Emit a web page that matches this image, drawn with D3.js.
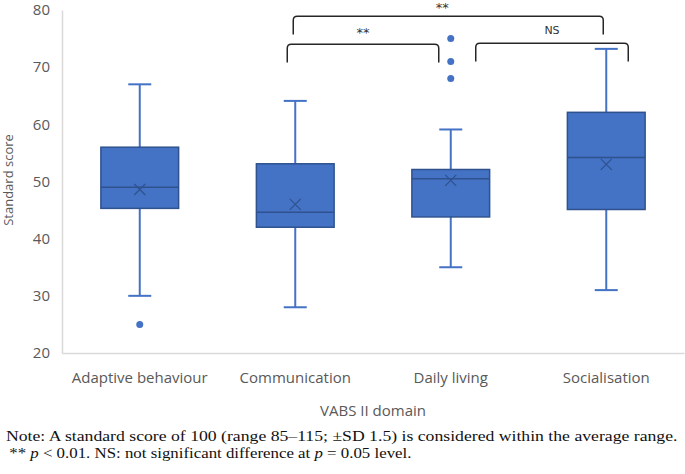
<!DOCTYPE html>
<html lang="en">
<head>
    <meta charset="UTF-8">
    <title>VABS II domain scores</title>
    <script src="https://cdnjs.cloudflare.com/ajax/libs/d3/7.8.2/d3.min.js"></script>
    <style>
        body{
            margin: 0;
            background: white;
        }
        svg{
            display: block;
        }
    </style>
</head>
<body>
    <div class="container"></div>
    <script>
        // data
        let domains = ['Adaptive behaviour', 'Communication', 'Daily living', 'Socialisation'];
        let mins    = [30, 28, 35, 31];
        let q1s     = [45.3, 42, 43.8, 45.1];
        let medians = [49, 44.6, 50.5, 54.2];
        let means   = [48.6, 46, 50.2, 53];
        let q3s     = [56, 53.1, 52.1, 62.1];
        let maxs    = [67, 64.1, 59.1, 73.2];
        let outliers = [[25], [], [68, 71, 75], []];
        let yTicks  = [20, 30, 40, 50, 60, 70, 80];

        // significance brackets: [from, to, label]
        let brackets = [
            ['Communication', 'Daily living', '**'],
            ['Daily living', 'Socialisation', 'NS'],
            ['Communication', 'Socialisation', '**']
        ];

        let width = 685;
        let height = 474;
        let blue = '#4472c4';
        let dark = '#2f528f';
        let gray = '#595959';

        let svg = d3.select('.container').append('svg')
                    .attr('width', width).attr('height', height);

        let xScale = d3.scaleBand().domain(domains).range([62, 684]);
        let yScale = d3.scaleLinear().domain([20, 80]).range([353, 10]);

        // axes
        let yAxis = d3.axisLeft(yScale).tickValues(yTicks).tickSize(0).tickPadding(12);
        let gy = svg.append('g').attr('transform', 'translate(62,0)').call(yAxis);
        gy.select('.domain').attr('stroke', '#d9d9d9').attr('stroke-width', 1.5);
        gy.selectAll('text').attr('fill', gray).style('font-family', 'Open Sans').style('font-size', '15px');

        let xAxis = d3.axisBottom(xScale).tickSize(0).tickPadding(19);
        let gx = svg.append('g').attr('transform', 'translate(0,353)').call(xAxis);
        gx.select('.domain').attr('stroke', '#d9d9d9').attr('stroke-width', 1.5);
        gx.selectAll('text').attr('fill', gray).style('font-family', 'Open Sans').style('font-size', '15px');

        svg.append('text').text('Standard score')
            .attr('transform', 'translate(13,180) rotate(-90)')
            .attr('text-anchor', 'middle')
            .attr('fill', gray)
            .style('font-family', 'Open Sans').style('font-size', '13px');

        svg.append('text').text('VABS II domain')
            .attr('x', 373).attr('y', 416)
            .attr('text-anchor', 'middle')
            .attr('fill', gray)
            .style('font-family', 'Open Sans').style('font-size', '15px');

        // boxes
        let boxW = xScale.bandwidth() * 0.5;
        let capW = 23;
        let stats = domains.map((d, i) => ({
            name: d, min: mins[i], q1: q1s[i], med: medians[i], mean: means[i],
            q3: q3s[i], max: maxs[i], out: outliers[i]
        }));

        let g = svg.selectAll('.box').data(stats).enter().append('g').attr('class', 'box')
                   .attr('transform', d => `translate(${xScale(d.name) + xScale.bandwidth() / 2},0)`);

        // whiskers
        g.append('line').attr('x1', 0).attr('x2', 0)
            .attr('y1', d => yScale(d.max)).attr('y2', d => yScale(d.min))
            .attr('stroke', blue).attr('stroke-width', 2);
        g.append('line').attr('x1', -capW / 2).attr('x2', capW / 2)
            .attr('y1', d => yScale(d.max)).attr('y2', d => yScale(d.max))
            .attr('stroke', blue).attr('stroke-width', 2);
        g.append('line').attr('x1', -capW / 2).attr('x2', capW / 2)
            .attr('y1', d => yScale(d.min)).attr('y2', d => yScale(d.min))
            .attr('stroke', blue).attr('stroke-width', 2);

        g.append('rect')
            .attr('x', -boxW / 2).attr('width', boxW)
            .attr('y', d => yScale(d.q3))
            .attr('height', d => yScale(d.q1) - yScale(d.q3))
            .attr('fill', blue).attr('stroke', dark).attr('stroke-width', 1.5);

        g.append('line').attr('x1', -boxW / 2).attr('x2', boxW / 2)
            .attr('y1', d => yScale(d.med)).attr('y2', d => yScale(d.med))
            .attr('stroke', dark).attr('stroke-width', 1.5);

        // mean marker
        let m = 5.5;
        g.append('path')
            .attr('d', d => {
                let y = yScale(d.mean);
                return `M${-m},${y - m}L${m},${y + m}M${m},${y - m}L${-m},${y + m}`;
            })
            .attr('stroke', dark).attr('stroke-width', 1.2).attr('fill', 'none');

        g.selectAll('.out').data(d => d.out).enter().append('circle')
            .attr('class', 'out')
            .attr('cx', 0).attr('cy', v => yScale(v)).attr('r', 3.5)
            .attr('fill', blue);

        // brackets
        let cx = name => xScale(name) + xScale.bandwidth() / 2;
        let bracketSpec = [
            {dx1: -8, dx2: -12, top: 74, bottom: 70.8, labelY: 37},
            {dx1: 25, dx2: 22, top: 74.2, bottom: 71, labelY: 34},
            {dx1: -2, dx2: -3, top: 78.9, bottom: 75.7, labelY: 12}
        ];
        brackets.forEach((b, i) => {
            let s = bracketSpec[i];
            let x1 = cx(b[0]) + s.dx1;
            let x2 = cx(b[1]) + s.dx2;
            let yt = yScale(s.top);
            let yb = yScale(s.bottom);
            let r = 4;
            let path = d3.path();
            path.moveTo(x1, yb);
            path.lineTo(x1, yt + r);
            path.quadraticCurveTo(x1, yt, x1 + r, yt);
            path.lineTo(x2 - r, yt);
            path.quadraticCurveTo(x2, yt, x2, yt + r);
            path.lineTo(x2, yb);
            svg.append('path').attr('d', path.toString())
                .attr('fill', 'none').attr('stroke', '#262626').attr('stroke-width', 1.5);
            svg.append('text').text(b[2])
                .attr('x', (x1 + x2) / 2 - (i === 2 ? 6 : 0))
                .attr('y', s.labelY)
                .attr('text-anchor', 'middle')
                .attr('fill', '#333')
                .style('font-family', 'DejaVu Sans')
                .style('font-size', b[2] === 'NS' ? '11px' : '13px');
        });

        // note, stretched sideways to the width it takes in the figure
        let noteLines = [
            ['Note: A standard score of 100 (range 85\u2013115; \u00b1SD 1.5) is considered within the average range.'],
            [' ** ', 'p', ' < 0.01. NS: not significant difference at ', 'p', ' = 0.05 level.']
        ];
        let noteLeft = [6, 5];
        let noteRight = [678, 412];
        noteLines.forEach((parts, i) => {
            let t = svg.append('text')
                .attr('x', 0).attr('y', 0)
                .attr('fill', '#111')
                .attr('xml:space', 'preserve')
                .style('white-space', 'pre')
                .style('font-family', 'Liberation Serif').style('font-size', '15px');
            parts.forEach(p => {
                t.append('tspan').text(p).style('font-style', p === 'p' ? 'italic' : 'normal');
            });
            let w = t.node().getComputedTextLength();
            let sx = (noteRight[i] - noteLeft[i]) / w;
            t.attr('transform', `translate(${noteLeft[i]},${441 + i * 17}) scale(${sx},1)`);
        });
    </script>
</body>
</html>
